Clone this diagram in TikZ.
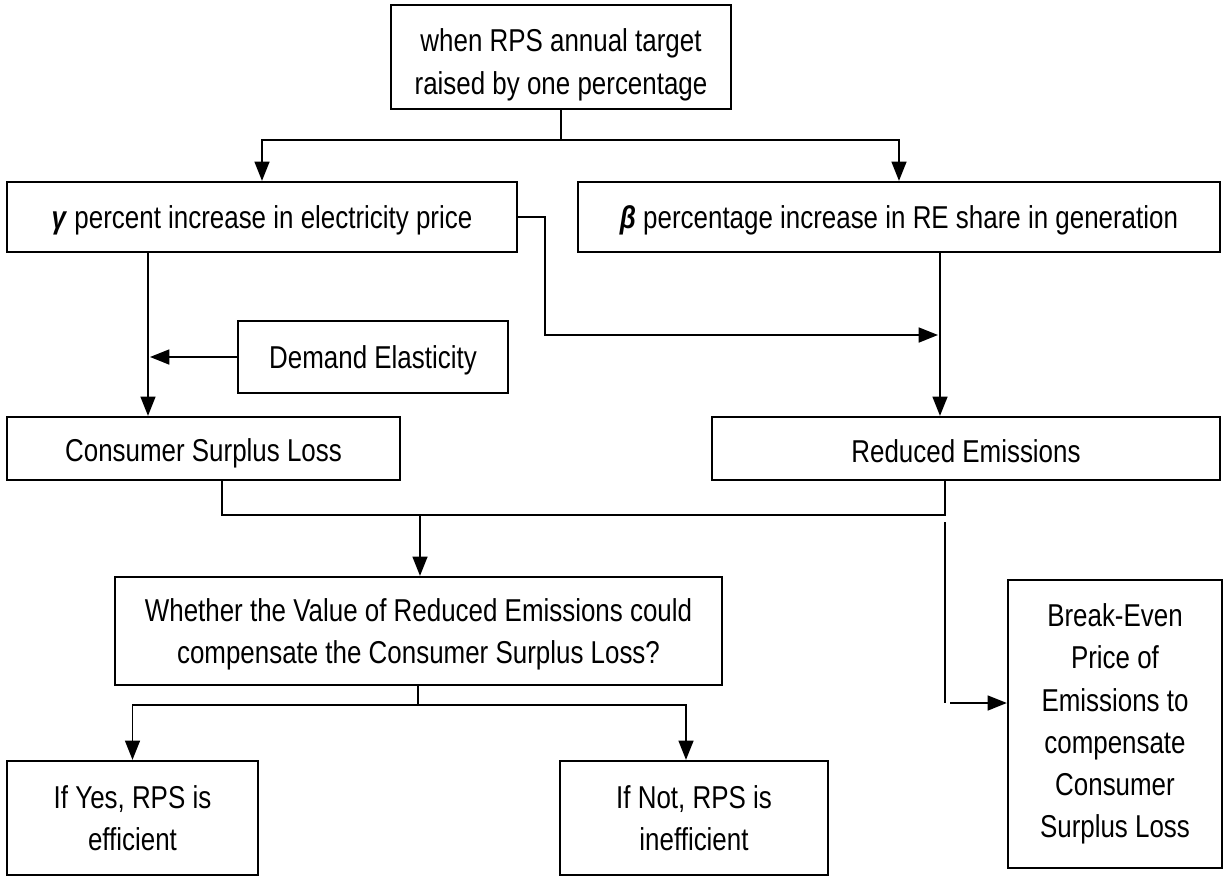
\documentclass[tikz,border=0pt]{standalone}
\usepackage{fontspec}
\setmainfont{Liberation Sans}[FakeStretch=0.82]
\usetikzlibrary{arrows.meta}
\begin{document}
\begin{tikzpicture}[x=0.02cm,y=-0.02cm,
  box/.style={draw,line width=1.3pt,align=center,inner sep=0pt,
    font=\fontsize{18}{24}\selectfont},
  link/.style={line width=1.1pt},
  arr/.style={line width=1.1pt,-{Triangle[length=11pt,width=8.5pt]}}]
\useasboundingbox (0,0) rectangle (1225,877);
\fill[white] (0,0) rectangle (1225,877);
\node[box,minimum width=340*0.02cm,minimum height=104*0.02cm] (top) at (561,57)
  {\rule{0pt}{22pt}when RPS annual target\\raised by one percentage};
\node[box,minimum width=510*0.02cm,minimum height=70*0.02cm] (gam) at (262,217)
  {\rule{0pt}{17pt}\textbf{\textit{γ}} percent increase in electricity price};
\node[box,minimum width=642*0.02cm,minimum height=70*0.02cm] (bet) at (899,217)
  {\rule{0pt}{17pt}\textbf{\textit{β}} percentage increase in RE share in generation};
\node[box,minimum width=270*0.02cm,minimum height=72*0.02cm] (dem) at (373,357)
  {\rule{0pt}{17pt}Demand Elasticity};
\node[box,minimum width=393*0.02cm,minimum height=63*0.02cm] (csl) at (203.5,448.5)
  {\rule{0pt}{19pt}Consumer Surplus Loss};
\node[box,minimum width=508*0.02cm,minimum height=63*0.02cm] (red) at (966,448.5)
  {\rule{0pt}{16pt}Reduced Emissions};
\node[box,minimum width=607*0.02cm,minimum height=108*0.02cm] (wh) at (418.5,631)
  {\rule{0pt}{17pt}Whether the Value of Reduced Emissions could\\compensate the Consumer Surplus Loss?};
\node[box,minimum width=251*0.02cm,minimum height=114*0.02cm] (yes) at (132.5,818)
  {If Yes, RPS is\\efficient};
\node[box,minimum width=268*0.02cm,minimum height=114*0.02cm] (no) at (694,818)
  {If Not, RPS is\\inefficient};
\node[box,minimum width=214*0.02cm,minimum height=288*0.02cm] (be) at (1115,724)
  {Break-Even\\Price of\\Emissions to\\compensate\\Consumer\\Surplus Loss};
% top split
\coordinate (t1) at (561,140);
\draw[link] (top.south) -- (t1);
\draw[arr] (t1) -| (gam.north);
\draw[arr] (t1) -| (bet.north);
% gamma to reduced-emission line
\coordinate (g1) at (545,217);
\coordinate (g2) at (545,335);
\coordinate (g3) at (938,335);
\draw[arr] (gam.east) -- (g1) -- (g2) -- (g3);
% beta to reduced emissions
\draw[arr] (bet.south -| 940,0) -- (red.north -| 940,0);
% gamma to CSL
\draw[arr] (gam.south -| 148,0) -- (csl.north -| 148,0);
% demand elasticity
\coordinate (d1) at (150,357);
\draw[arr] (dem.west) -- (d1);
% CSL & RE join
\coordinate (j1) at (222,515);
\coordinate (j2) at (945,515);
\coordinate (j3) at (420,515);
\draw[link] (csl.south -| j1) -- (j1) -- (j2) -- (red.south -| j2);
\draw[arr] (j3) -- (wh.north -| j3);
% to break-even
\coordinate (b1) at (945,522);
\coordinate (b2) at (945,703);
\coordinate (b3) at (950,703);
\draw[link] (b1) -- (b2);
\draw[arr] (b3) -- (be.west |- b3);
% whether split
\coordinate (w1) at (418,705);
\draw[link] (wh.south -| w1) -- (w1);
\draw[arr] (w1) -| (yes.north);
\draw[arr] (w1) -| (no.north -| 686,0);
\end{tikzpicture}
\end{document}
